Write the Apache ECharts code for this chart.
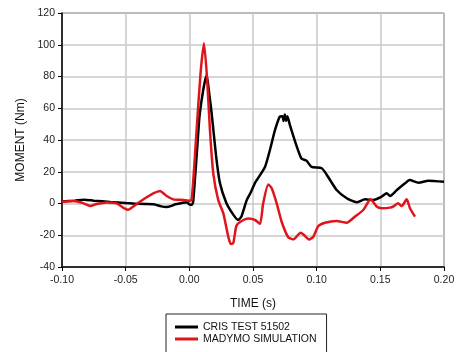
<!DOCTYPE html>
<html>
<head>
<meta charset="utf-8">
<script src="https://cdn.jsdelivr.net/npm/echarts@6/dist/echarts.min.js"></script>
<style>
  html, body { margin: 0; padding: 0; background: #fff; }
  #chart { width: 459px; height: 352px; }
</style>
</head>
<body>
<div id="chart"></div>
<script>
// CRIS test (black)
const crisTime = [-0.100, -0.090, -0.083, -0.075, -0.062, -0.050, -0.044, -0.035, -0.028, -0.022, -0.018, -0.014, -0.011, -0.005, -0.002, 0.000, 0.002, 0.003, 0.006, 0.008, 0.011, 0.0136, 0.0155, 0.0175, 0.021, 0.024, 0.029, 0.0345, 0.0384, 0.041, 0.045, 0.048, 0.0516, 0.053, 0.0594, 0.0633, 0.0672, 0.071, 0.073, 0.074, 0.075, 0.076, 0.077, 0.079, 0.0844, 0.088, 0.092, 0.096, 0.104, 0.108, 0.1157, 0.1236, 0.1314, 0.138, 0.1445, 0.151, 0.155, 0.1576, 0.163, 0.1694, 0.173, 0.180, 0.1877, 0.200];
const crisMoment = [1.2, 1.8, 2.4, 1.8, 1.0, 0.3, 0.0, -0.3, -0.5, -1.8, -2.2, -1.5, -0.5, 0.5, 0.8, -0.5, -0.8, 1, 33, 55, 72, 81, 70, 57, 30, 13, 0.5, -7, -10.4, -8, 2, 6.6, 13, 14.8, 23, 33.7, 46, 54.7, 55, 52, 56, 52, 55, 49.4, 35.8, 28.4, 27, 23, 22.2, 18, 8.5, 3.3, 0.8, 2.6, 2.2, 4.3, 6.4, 4.7, 8.5, 12.7, 14.8, 13.1, 14.4, 13.7];

// MADYMO simulation (red)
const madymoTime = [-0.100, -0.091, -0.083, -0.078, -0.0727, -0.065, -0.057, -0.052, -0.048, -0.044, -0.0388, -0.0335, -0.0283, -0.023, -0.0178, -0.0126, -0.0047, -0.0008, 0.0018, 0.0057, 0.0088, 0.0115, 0.014, 0.0162, 0.0188, 0.0227, 0.0267, 0.0306, 0.0325, 0.0345, 0.037, 0.0411, 0.0463, 0.0516, 0.0555, 0.058, 0.062, 0.0647, 0.0686, 0.0725, 0.0777, 0.0817, 0.0874, 0.090, 0.094, 0.0974, 0.1013, 0.1065, 0.1157, 0.1236, 0.130, 0.1366, 0.1424, 0.1471, 0.151, 0.1576, 0.1607, 0.164, 0.1668, 0.1707, 0.1733, 0.1772];
const madymoMoment = [1.1, 1.6, 0.1, -1.6, -0.3, 0.7, 0.1, -2.6, -4, -1.9, 1.1, 3.9, 6.4, 7.9, 4.7, 2.6, 2.2, 1.8, 2.2, 46, 82, 101, 78, 46, 19, 2.2, -6.2, -21, -25.5, -25, -14, -11, -9.5, -10.4, -12.9, 0.1, 12, 9.6, 0.1, -11.5, -21.3, -22.6, -18.4, -19.8, -22.6, -20.9, -14.2, -12.1, -11, -12.1, -8.3, -4.1, 2.6, -1.9, -3, -2.6, -1.6, 0.1, -1.6, 2.6, -3, -8.3];

const seriesNames = ['CRIS TEST 51502', 'MADYMO SIMULATION'];
const seriesColors = ['#000000', '#e0141b'];

const zip = (xs, ys) => xs.map((x, i) => [x, ys[i]]);

const chart = echarts.init(document.getElementById('chart'));

chart.setOption({
  animation: false,
  backgroundColor: '#fff',
  textStyle: { fontFamily: 'Liberation Sans, Arial, sans-serif' },
  grid: {
    left: 62, top: 13, right: 15, bottom: 85,
    show: true,
    borderColor: '#333',
    borderWidth: 1
  },
  legend: {
    left: 166, top: 314,
    height: 60,
    orient: 'vertical',
    padding: [7, 10, 30, 9],
    borderColor: '#222',
    borderWidth: 1,
    icon: 'rect',
    itemWidth: 23,
    itemHeight: 3,
    itemGap: 0,
    textStyle: { fontSize: 10.5, color: '#111', lineHeight: 12 },
    data: seriesNames
  },
  xAxis: {
    type: 'value',
    min: -0.10, max: 0.20, interval: 0.05,
    name: 'TIME (s)',
    nameLocation: 'middle',
    nameGap: 31,
    nameTextStyle: { fontSize: 12, color: '#111' },
    axisLine: { onZero: false, lineStyle: { color: '#000', width: 1.5 } },
    axisTick: { show: true, length: 4, lineStyle: { color: '#000' } },
    axisLabel: { fontSize: 10.5, color: '#222', margin: 8, formatter: v => v.toFixed(2) },
    splitLine: { show: true, lineStyle: { color: '#c8c8c8', width: 1.5 } }
  },
  yAxis: {
    type: 'value',
    min: -40, max: 120, interval: 20,
    name: 'MOMENT (Nm)',
    nameLocation: 'middle',
    nameGap: 35,
    nameTextStyle: { fontSize: 12, color: '#111' },
    axisLine: { show: true, onZero: false, lineStyle: { color: '#000', width: 1.5 } },
    axisTick: { show: true, length: 4, lineStyle: { color: '#000' } },
    axisLabel: { fontSize: 10.5, color: '#222', margin: 7 },
    splitLine: { show: true, lineStyle: { color: '#c8c8c8', width: 1.5 } }
  },
  series: [
    {
      name: seriesNames[0],
      type: 'line',
      data: zip(crisTime, crisMoment),
      symbol: 'none',
      smooth: 0.2,
      lineStyle: { color: seriesColors[0], width: 2.5 },
      itemStyle: { color: seriesColors[0] },
      z: 3
    },
    {
      name: seriesNames[1],
      type: 'line',
      data: zip(madymoTime, madymoMoment),
      symbol: 'none',
      smooth: 0.2,
      lineStyle: { color: seriesColors[1], width: 2.5 },
      itemStyle: { color: seriesColors[1] },
      z: 4
    }
  ]
});
</script>
</body>
</html>
